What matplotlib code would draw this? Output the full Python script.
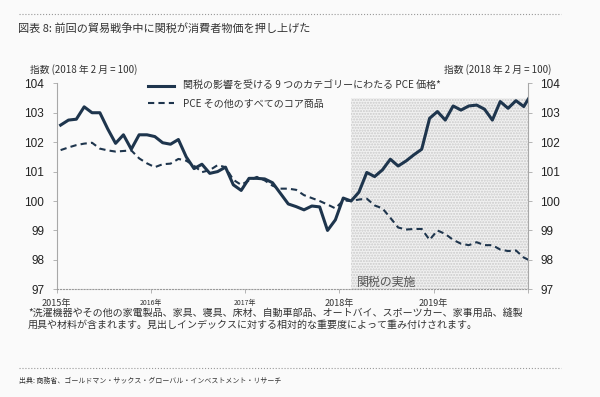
import numpy as np
import matplotlib.pyplot as plt
from matplotlib.lines import Line2D

# Monthly index values, Jan 2015 .. Jan 2020 (Feb 2018 = 100)
tariff_goods = [
    102.58, 102.75, 102.78, 103.20, 103.00, 103.00, 102.45, 101.96, 102.25, 101.76,
    102.25, 102.25, 102.19, 101.98, 101.93, 102.09, 101.50, 101.10, 101.25, 100.94,
    101.00, 101.15, 100.55, 100.36, 100.77, 100.77, 100.75, 100.62, 100.26, 99.90,
    99.81, 99.70, 99.83, 99.80, 99.00, 99.36, 100.10, 100.00, 100.30, 100.97,
    100.83, 101.06, 101.42, 101.19, 101.36, 101.57, 101.76, 102.81, 103.04, 102.75,
    103.23, 103.09, 103.23, 103.26, 103.12, 102.75, 103.38, 103.15, 103.41, 103.21,
    103.65,
]
other_core = [
    101.73, 101.82, 101.90, 101.95, 101.98, 101.78, 101.72, 101.68, 101.70, 101.72,
    101.45, 101.28, 101.15, 101.25, 101.27, 101.43, 101.37, 101.20, 100.98, 101.05,
    101.22, 101.15, 100.72, 100.55, 100.70, 100.82, 100.70, 100.52, 100.42, 100.42,
    100.38, 100.20, 100.10, 100.00, 99.88, 99.75, 100.02, 100.00, 100.05, 100.08,
    99.85, 99.75, 99.43, 99.10, 99.03, 99.05, 99.05, 98.68, 99.00, 98.88,
    98.68, 98.55, 98.50, 98.60, 98.50, 98.50, 98.35, 98.30, 98.32, 98.08,
    97.95,
]
year_labels = ['2015年', '2016年', '2017年', '2018年', '2019年']
yticks = [97, 98, 99, 100, 101, 102, 103, 104]
series_names = ['関税の影響を受ける 9 つのカテゴリーにわたる PCE 価格*',
                'PCE その他のすべてのコア商品']
tariff_start = 37.5   # Feb 2018
shade_top = 103.5

plt.rcParams['font.family'] = ['Noto Sans CJK JP', 'DejaVu Sans']

W, H = 600, 397
fig = plt.figure(figsize=(W / 100, H / 100), dpi=100)
fig.patch.set_facecolor('#fafafa')

def fx(px):
    return px / W

def fy(py):
    return 1 - py / H

navy = '#1e354d'
grey = '#a8a8a8'

ax = fig.add_axes([fx(56.7), fy(289.3), fx(527.7) - fx(56.7), fy(83.3) - fy(289.3)])
ax.set_facecolor('#fafafa')
ax2 = ax.twinx()

x = np.arange(len(tariff_goods)) + 0.5
months = len(tariff_goods) - 1

# tariff period shading (stippled)
ax.fill_between([tariff_start, months], 97, shade_top, facecolor='#f1f1f1',
                hatch='......', edgecolor='#cacaca', linewidth=0, zorder=0)
ax.text(tariff_start + 0.8, 97.25, '関税の実施', fontsize=8.6, color='#555555',
        va='center', ha='left')

ax.plot(x, tariff_goods, color=navy, lw=2.2, solid_joinstyle='round',
        label=series_names[0], zorder=3)
ax.plot(x, other_core, color=navy, lw=1.5, ls=(0, (3, 2)),
        label=series_names[1], zorder=2)

for a in (ax, ax2):
    a.set_xlim(0, months)
    a.set_ylim(97, 104)
    a.set_yticks(yticks)
    a.set_yticklabels([str(v) for v in yticks], fontfamily='Liberation Sans',
                      fontsize=8.5, color='#222222')
    a.spines['top'].set_visible(False)

ax.spines['right'].set_visible(False)
ax2.spines['left'].set_visible(False)
ax2.spines['bottom'].set_visible(False)
ax.spines['left'].set_color(grey)
ax.spines['left'].set_linewidth(0.8)
ax2.spines['right'].set_color(grey)
ax2.spines['right'].set_linewidth(0.8)
ax.spines['bottom'].set_color('#9a9a9a')
ax.spines['bottom'].set_linestyle(':')
ax.spines['bottom'].set_linewidth(0.8)

ax.tick_params(axis='y', direction='out', length=3, width=0.6, color=grey, pad=6)
ax2.tick_params(axis='y', direction='out', length=3, width=0.6, color=grey, pad=6)

ax.set_xticks(np.arange(0, months + 1, 12))
ax.set_xticklabels(year_labels + [''])
ax.tick_params(axis='x', direction='out', length=3, width=0.6, color=grey, pad=4)
for lbl, size in zip(ax.get_xticklabels(), [6.5, 5, 5, 6.5, 6.5, 6.5]):
    lbl.set_fontsize(size)
    lbl.set_color('#333333')

leg = ax.legend(loc='upper left', bbox_to_anchor=(fx(148), fy(81)),
                bbox_transform=fig.transFigure, frameon=False, fontsize=7.2,
                handlelength=2.6, handletextpad=0.9, labelspacing=0.75,
                borderpad=0, borderaxespad=0)
for t in leg.get_texts():
    t.set_color('#333333')

# titles and notes
fig.add_artist(Line2D([fx(19), fx(561)], [fy(14), fy(14)], ls=':', lw=0.8, color='#999999'))
fig.text(fx(18), fy(28), '図表 8: 前回の貿易戦争中に関税が消費者物価を押し上げた',
         fontsize=8, color='#333333', va='center')
fig.text(fx(30), fy(70), '指数 (2018 年 2 月 = 100)', fontsize=7, color='#333333', va='center')
fig.text(fx(551), fy(70), '指数 (2018 年 2 月 = 100)', fontsize=7, color='#333333',
         va='center', ha='right')
fig.text(fx(28), fy(308),
         '*洗濯機器やその他の家電製品、家具、寝具、床材、自動車部品、オートバイ、スポーツカー、家事用品、縫製\n'
         '用具や材料が含まれます。見出しインデックスに対する相対的な重要度によって重み付けされます。',
         fontsize=7.2, color='#333333', va='top', linespacing=1.2)
fig.add_artist(Line2D([fx(19), fx(561)], [fy(368), fy(368)], ls=':', lw=0.8, color='#999999'))
fig.text(fx(19), fy(381), '出典: 商務省、ゴールドマン・サックス・グローバル・インベストメント・リサーチ',
         fontsize=5, color='#333333', va='center')

fig.savefig('out.png', dpi=100, facecolor=fig.get_facecolor())
